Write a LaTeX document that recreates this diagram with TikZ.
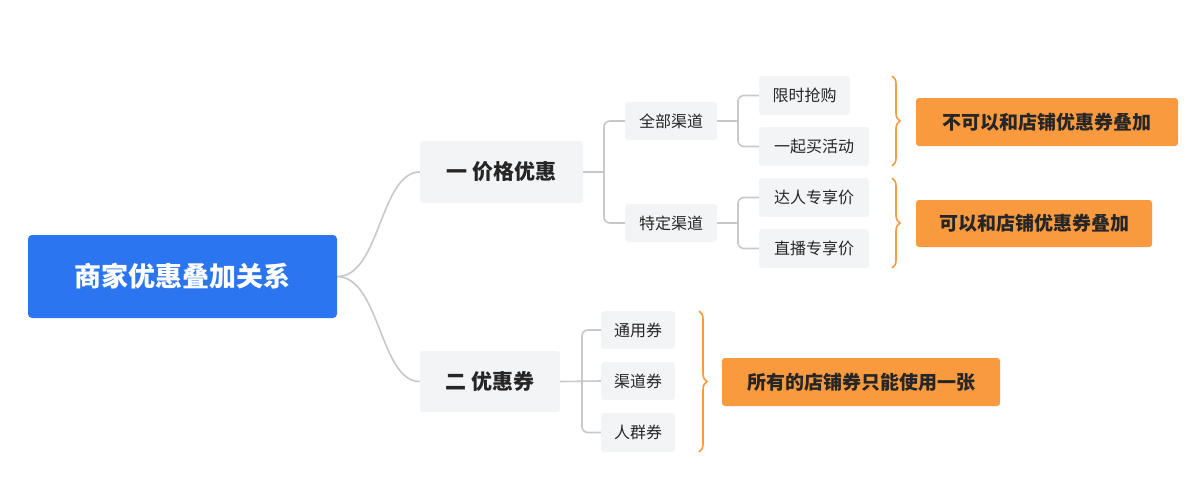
\documentclass[tikz,border=0pt]{standalone}
\usepackage{fontspec}
\setmainfont{Noto Sans CJK SC}
\usetikzlibrary{decorations.pathreplacing}
\definecolor{blu}{HTML}{2B75F0}
\definecolor{gry}{HTML}{F3F4F6}
\definecolor{org}{HTML}{FA9A3F}
\definecolor{ln}{HTML}{C8C8C8}
\begin{document}
\begin{tikzpicture}[x=1pt,y=-1pt,
  box/.style={fill=gry,rounded corners=3pt,inner sep=0pt},
  lf/.style={box,font=\fontsize{16}{18}\selectfont,text=black!85},
  ob/.style={fill=org,rounded corners=3pt,inner sep=0pt,font=\bfseries\fontsize{19}{21}\selectfont,text=black!85},
  con/.style={draw=ln,line width=1.6pt,rounded corners=6pt},
  br/.style={draw=org,line width=1.6pt,decorate,decoration={brace,amplitude=8pt}}]
\useasboundingbox (0,0) rectangle (1190,482);
\node[fill=blu,rounded corners=4pt,minimum width=309pt,minimum height=83pt,text=white,font=\bfseries\fontsize{27}{30}\selectfont] (root) at (182.5,276.5) {商家优惠叠加关系};
\node[box,minimum width=163pt,minimum height=62pt,font=\bfseries\fontsize{21}{24}\selectfont,text=black!85] (a) at (501.5,172) {一 价格优惠};
\node[box,minimum width=140pt,minimum height=61pt,font=\bfseries\fontsize{21}{24}\selectfont,text=black!85] (b) at (490,381.5) {二 优惠券};
\node[lf,minimum width=92pt,minimum height=38pt] (a1) at (671,121) {全部渠道};
\node[lf,minimum width=92pt,minimum height=38pt] (a2) at (671,223) {特定渠道};
\node[lf,minimum width=91pt,minimum height=39pt] (a11) at (804.5,95.5) {限时抢购};
\node[lf,minimum width=110pt,minimum height=39pt] (a12) at (814,146.5) {一起买活动};
\node[lf,minimum width=110pt,minimum height=39pt] (a21) at (814,197.5) {达人专享价};
\node[lf,minimum width=110pt,minimum height=39pt] (a22) at (814,248.5) {直播专享价};
\node[lf,minimum width=74pt,minimum height=38pt] (b1) at (638,330) {通用券};
\node[lf,minimum width=74pt,minimum height=38pt] (b2) at (638,381) {渠道券};
\node[lf,minimum width=74pt,minimum height=39pt] (b3) at (638,432.5) {人群券};
\node[ob,minimum width=262pt,minimum height=48pt] (o1) at (1047,122) {不可以和店铺优惠券叠加};
\node[ob,minimum width=236pt,minimum height=47pt] (o2) at (1034,223.5) {可以和店铺优惠券叠加};
\node[ob,minimum width=278pt,minimum height=48pt] (o3) at (861,382) {所有的店铺券只能使用一张};
\draw[line width=1.6pt,draw=ln] (root.east) .. controls (380,277) and (380,172) .. (a.west);
\draw[line width=1.6pt,draw=ln] (root.east) .. controls (380,277) and (380,382) .. (b.west);
\coordinate (ja) at (604,172);
\draw[con] (a.east) -- (ja);
\draw[con] (a1.west) -| (ja) |- (a2.west);
\coordinate (j1) at (738,121);
\draw[con] (a1.east) -- (j1);
\draw[con] (a11.west) -| (j1) |- (a12.west);
\coordinate (j2) at (738,223);
\draw[con] (a2.east) -- (j2);
\draw[con] (a21.west) -| (j2) |- (a22.west);
\coordinate (jb) at (582,381);
\draw[con] (b.east) -- (b2.west);
\draw[con] (b1.west) -| (jb) |- (b3.west);
\coordinate (t1) at (892,76); \coordinate (u1) at (892,166);
\draw[br] (t1) -- (u1);
\coordinate (t2) at (892,178); \coordinate (u2) at (892,268);
\draw[br] (t2) -- (u2);
\coordinate (t3) at (699,311); \coordinate (u3) at (699,452);
\draw[br] (t3) -- (u3);
\end{tikzpicture}
\end{document}
